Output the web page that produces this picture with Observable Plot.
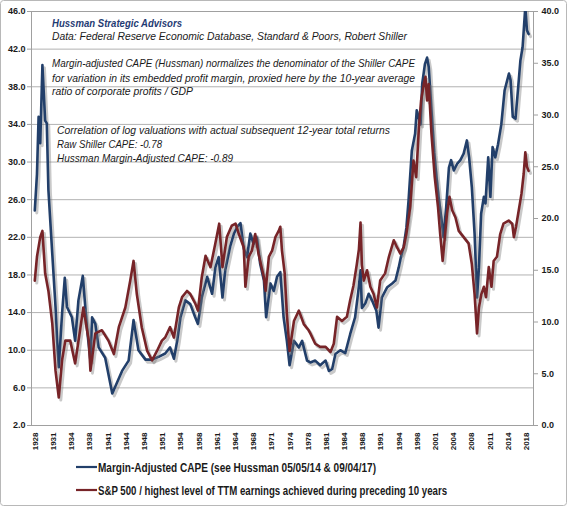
<!DOCTYPE html>
<html><head><meta charset="utf-8">
<script src="https://cdn.jsdelivr.net/npm/d3@7"></script>
<script src="https://cdn.jsdelivr.net/npm/@observablehq/plot@0.6"></script>
<style>
body{margin:0;background:#fff;}
#chart{position:relative;width:567px;height:506px;}
</style></head><body><div id="chart"></div>
<script>
// Margin-Adjusted CAPE (left axis)
const blueYears = [1927.9,1928.3,1928.6,1928.9,1929.3,1929.8,1930.1,1930.4,1931.1,1931.7,1932.0,1932.3,1932.9,1933.4,1933.8,1934.7,1935.3,1935.9,1936.7,1937.5,1938.1,1938.4,1939.0,1939.6,1940.8,1942.1,1943.9,1945.1,1946.0,1946.9,1948.2,1949.4,1950.6,1951.8,1952.7,1953.4,1954.0,1954.6,1955.5,1956.4,1957.3,1957.8,1958.5,1959.5,1960.4,1961.0,1961.6,1962.3,1962.8,1963.7,1964.4,1965.0,1965.6,1966.2,1966.8,1967.4,1968.0,1968.6,1969.2,1969.9,1970.3,1971.1,1971.7,1972.3,1972.9,1973.5,1974.1,1974.6,1975.4,1976.3,1976.9,1977.8,1978.4,1979.3,1980.2,1981.2,1981.8,1982.4,1983.0,1983.9,1984.8,1985.7,1986.6,1987.2,1987.6,1987.85,1988.5,1989.1,1989.7,1990.5,1990.9,1991.5,1992.5,1993.4,1994.0,1994.6,1995.0,1995.5,1996.0,1996.4,1997.0,1997.6,1997.9,1998.6,1998.9,1999.4,1999.8,2000.1,2000.6,2001.1,2001.5,2001.9,2002.4,2002.8,2003.3,2003.8,2004.2,2004.7,2005.3,2005.9,2006.5,2007.1,2007.5,2008.0,2008.5,2008.95,2009.3,2009.7,2010.2,2010.5,2011.0,2011.4,2011.8,2012.3,2012.8,2013.4,2014.0,2014.8,2015.1,2015.5,2016.0,2016.5,2016.9,2017.3,2017.8,2018.1,2018.4];
const blueValues = [24.85,28.7,34.8,32.0,40.3,34.4,34.1,27.0,20.3,14.6,11.0,8.2,13.9,17.7,14.6,13.5,11.0,15.3,17.9,12.1,8.9,13.5,12.8,10.3,9.2,5.4,7.8,8.9,13.2,10.0,9.0,9.0,9.3,9.65,10.3,9.1,11.0,13.5,15.3,14.9,13.5,12.8,15.6,17.8,16.0,18.8,19.9,15.6,18.5,21.0,22.4,23.1,23.5,20.8,19.9,22.4,21.3,22.0,19.2,17.4,13.5,17.1,16.3,17.8,18.3,13.5,11.0,8.4,11.0,10.3,11.0,8.9,8.7,8.9,8.4,8.9,7.8,8.0,9.6,10.0,9.7,11.7,13.5,16.3,18.5,14.5,15.0,16.0,15.3,14.2,12.4,15.6,16.7,17.1,17.4,18.8,19.9,21.0,23.0,25.9,31.2,33.0,35.5,34.0,38.3,40.4,41.1,40.1,35.5,31.0,28.5,26.3,24.1,22.0,25.2,29.4,30.2,29.1,29.8,30.2,30.9,32.3,30.5,27.3,22.4,15.6,18.8,24.5,26.3,25.6,30.5,26.3,31.6,30.5,31.9,34.0,37.6,39.4,38.7,34.8,34.6,38.0,40.8,42.2,46.5,44.0,43.6];

// S&P 500 / highest TTM earnings of preceding 10 years (right axis)
const redYears = [1927.9,1928.3,1928.9,1929.3,1929.8,1930.4,1931.1,1931.7,1932.3,1932.9,1933.5,1934.4,1935.3,1936.2,1936.8,1937.8,1938.1,1939.0,1940.2,1941.4,1942.4,1943.3,1944.5,1945.4,1946.0,1946.6,1947.5,1948.5,1949.4,1950.3,1951.2,1951.8,1952.7,1953.4,1954.3,1954.9,1955.8,1956.4,1957.3,1957.8,1958.5,1959.2,1960.1,1961.0,1961.7,1962.3,1963.1,1964.0,1964.7,1965.3,1966.2,1966.5,1967.1,1967.7,1968.3,1968.9,1969.9,1970.2,1970.8,1971.4,1972.0,1972.6,1972.9,1973.2,1973.7,1974.1,1974.6,1975.4,1976.3,1977.2,1978.1,1978.4,1979.3,1980.2,1981.2,1982.1,1982.7,1983.3,1984.2,1985.1,1985.7,1986.3,1986.9,1987.3,1987.6,1987.85,1988.2,1988.8,1989.4,1990.0,1990.6,1991.2,1992.1,1992.8,1993.7,1994.3,1994.9,1995.5,1996.0,1996.7,1997.3,1997.8,1998.3,1998.7,1999.2,1999.5,1999.8,2000.1,2000.6,2001.2,2001.8,2002.2,2002.65,2003.0,2003.45,2003.9,2004.4,2005.0,2005.6,2006.5,2007.4,2008.0,2008.5,2008.95,2009.3,2009.75,2010.2,2010.6,2011.1,2011.6,2012.0,2012.6,2013.2,2013.8,2014.75,2015.4,2015.7,2016.1,2016.6,2017.1,2017.5,2017.8,2018.1,2018.4];
const redValues = [14.0,16.3,18.2,18.8,14.7,13.0,9.9,5.3,2.7,6.3,8.2,8.2,6.0,9.2,11.4,8.2,5.3,8.9,9.2,8.2,6.9,9.5,11.4,14.0,15.9,12.7,9.5,7.2,6.3,7.2,8.2,8.5,9.5,8.5,11.4,12.4,13.0,12.7,11.8,11.1,14.3,16.4,15.3,17.6,19.5,15.3,18.2,19.3,19.5,18.5,17.2,13.4,16.3,16.9,18.5,16.6,14.3,13.0,16.3,16.9,18.2,18.8,19.2,16.9,14.7,10.8,7.2,10.1,11.1,9.8,9.2,8.9,7.9,7.6,7.6,7.1,7.9,10.5,10.1,10.5,12.1,13.5,15.5,17.0,19.6,15.5,14.0,15.0,13.4,12.7,11.4,14.0,14.7,16.3,17.9,17.2,16.6,17.2,18.5,21.1,25.6,24.0,28.8,31.4,33.0,33.7,31.4,33.0,28.2,24.0,21.1,18.5,15.9,17.9,20.5,22.1,20.8,20.1,18.8,18.2,17.6,15.6,12.7,8.9,11.4,12.7,13.4,12.4,15.3,13.4,15.9,16.3,18.5,19.5,19.8,19.5,18.2,19.2,20.8,22.4,24.3,26.4,25.0,24.6];

const leftTicks = [2,6,10,14,18,22,26,30,34,38,42,46];
const rightTicks = [0,5,10,15,20,25,30,35,40];
const xTickYears = d3.range(28).map(i => 1928 + i * 40 / 12);

const noteTexts = [
  "Hussman Strategic Advisors",
  "Data: Federal Reserve Economic Database, Standard & Poors, Robert Shiller",
  "Margin-adjusted CAPE (Hussman) normalizes the denominator of the Shiller CAPE",
  "for variation in its embedded profit margin, proxied here by the 10-year average",
  "ratio of corporate profits / GDP",
  "Correlation of log valuations with actual subsequent 12-year total returns",
  "Raw Shiller CAPE: -0.78",
  "Hussman Margin-Adjusted CAPE: -0.89"
];
const legendLabels = [
  "Margin-Adjusted CAPE (see Hussman 05/05/14 & 09/04/17)",
  "S&P 500 / highest level of TTM earnings achieved during preceding 10 years"
];

// layout (not data)
const noteLayout = [[52,26.5,130],[52,40,355],[52,67,363],[52,81.5,363],[52,95,141],[57,134,333],[57,148,105],[57,161.5,176]];
const BLUE = "#223f6a", RED = "#772428";

const toLeft = r => 2 + r * 44 / 40;
const blue = blueYears.map((x, i) => ({x, y: blueValues[i]}));
const red = redYears.map((x, i) => ({x, y: toLeft(redValues[i])}));

const chart = Plot.plot({
  width: 567, height: 506,
  marginLeft: 31, marginRight: 34, marginTop: 11, marginBottom: 81,
  style: {fontFamily: "'Liberation Sans', Arial, sans-serif", background: "#fff", color: "#1a1a1a"},
  x: {domain: [1927.3, 2019.3], axis: null},
  y: {domain: [2, 46], axis: null},
  marks: [
    Plot.gridY(leftTicks, {stroke: "#b2b2b2", strokeOpacity: 1}),
    Plot.frame({stroke: "#a0a0a0"}),
    Plot.axisY(leftTicks, {anchor: "left", tickSize: 4, tickPadding: 2, stroke: "#a0a0a0", fill: "#1a1a1a", tickFormat: d => d.toFixed(1), fontSize: 9, fontWeight: "bold", label: null}),
    Plot.axisY(rightTicks.map(toLeft), {anchor: "right", tickSize: 4, tickPadding: 4, stroke: "#a0a0a0", fill: "#1a1a1a", tickFormat: d => ((d - 2) * 40 / 44).toFixed(1), fontSize: 9, fontWeight: "bold", label: null}),
    Plot.axisX(xTickYears, {anchor: "bottom", tickSize: 0, tickPadding: 7, tickRotate: -90, tickFormat: d => String(Math.floor(d + 1e-6)), fontSize: 8, fontWeight: "bold", label: null}),
    Plot.line(blue, {x: "x", y: "y", stroke: "#777", strokeOpacity: 0.4, strokeWidth: 3, dx: 2, dy: 2.5, clip: true}),
    Plot.line(blue, {x: "x", y: "y", stroke: BLUE, strokeWidth: 2.6, strokeLinejoin: "round", clip: true}),
    Plot.line(red, {x: "x", y: "y", stroke: "#777", strokeOpacity: 0.4, strokeWidth: 3, dx: 2, dy: 2.5, clip: true}),
    Plot.line(red, {x: "x", y: "y", stroke: RED, strokeWidth: 2.6, strokeLinejoin: "round", clip: true})
  ]
});

const svg = d3.select(chart);
noteTexts.forEach((t, i) => {
  const [x, y, w] = noteLayout[i];
  svg.append("text").attr("x", x).attr("y", y).text(t)
    .attr("text-anchor", "start")
    .attr("textLength", w).attr("lengthAdjust", "spacingAndGlyphs")
    .attr("font-size", 11.5).attr("font-style", "italic")
    .attr("font-weight", i === 0 ? "bold" : "normal")
    .attr("fill", i === 0 ? "#1f3b73" : "#1a1a1a");
});
const legendLayout = [[467, 278, BLUE], [490, 349, RED]];
legendLabels.forEach((t, i) => {
  const [y, w, c] = legendLayout[i];
  svg.append("line").attr("x1", 76).attr("x2", 97).attr("y1", y).attr("y2", y).attr("stroke", c).attr("stroke-width", 2.2);
  svg.append("text").attr("x", 98).attr("y", y + 4.5).text(t)
    .attr("text-anchor", "start")
    .attr("textLength", w).attr("lengthAdjust", "spacingAndGlyphs")
    .attr("font-size", 12).attr("font-weight", "bold").attr("fill", "#1a1a1a");
});
svg.append("rect").attr("x", 0.5).attr("y", 0.5).attr("width", 566).attr("height", 505)
  .attr("rx", 3).attr("fill", "none").attr("stroke", "#b8b8b8");

document.getElementById("chart").appendChild(chart);
</script></body></html>
